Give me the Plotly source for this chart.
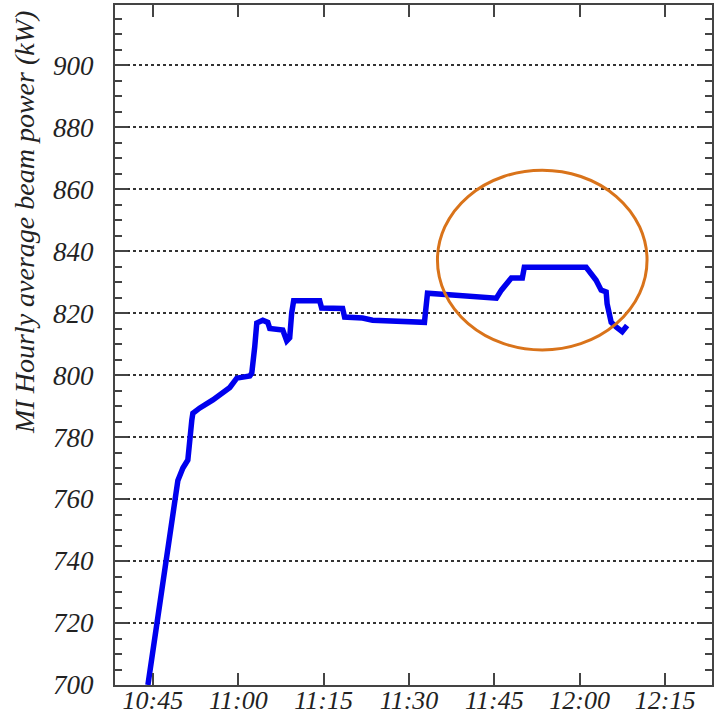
import plotly.graph_objects as go

# Time stamps (HH:MM:SS) and hourly-average beam power (kW)
times = [
    "10:44:07", "10:45:42", "10:47:27", "10:48:51", "10:49:23", "10:50:16",
    "10:51:08", "10:51:50", "10:52:01", "10:53:15", "10:55:32", "10:58:31",
    "10:59:44", "11:02:01", "11:02:22", "11:02:53", "11:03:15", "11:04:18",
    "11:05:11", "11:05:32", "11:07:49", "11:08:31", "11:09:02", "11:09:23",
    "11:09:44", "11:14:18", "11:14:39", "11:18:20", "11:18:41", "11:21:50",
    "11:23:36", "11:32:43", "11:33:04", "11:33:15", "11:37:38", "11:42:53",
    "11:45:21", "11:46:14", "11:47:07", "11:47:59", "11:49:55", "11:50:16",
    "12:01:08", "12:02:01", "12:02:53", "12:03:46", "12:04:39", "12:04:49",
    "12:05:32", "12:06:24", "12:07:28", "12:08:20",
]
power = [
    700, 720, 740, 760, 766, 770,
    772.6, 785.5, 787.7, 789.4, 792, 796,
    799, 799.7, 800.6, 809, 816.8, 817.7,
    817, 815, 814.5, 811, 812, 820,
    824, 824, 821.6, 821.5, 818.7, 818.4,
    817.7, 817, 824, 826.4, 825.8, 825,
    824.8, 827.4, 829.5, 831.3, 831.3, 834.8,
    834.8, 833, 830.6, 827.4, 826.8, 823,
    817, 815.5, 814, 816,
]
tick_vals = ["10:45", "11:00", "11:15", "11:30", "11:45", "12:00", "12:15"]
y_ticks = [700, 720, 740, 760, 780, 800, 820, 840, 860, 880, 900]

DAY = "2020-01-01 "
x = [DAY + t for t in times]

font_fam = "Liberation Serif, Times New Roman, serif"
tickfont = dict(family=font_fam, size=27, color="#222222", style="italic")

fig = go.Figure()
fig.add_trace(go.Scatter(
    x=x, y=power, mode="lines",
    line=dict(color="#0000ee", width=5.5),
    showlegend=False,
))

axis_common = dict(
    showline=True, linecolor="#444444", linewidth=2,
    ticks="inside", tickcolor="#444444", tickwidth=2,
    mirror="ticks", zeroline=False, automargin=False,
)

fig.update_xaxes(
    type="date",
    range=[DAY + "10:38:20", DAY + "12:23:15"],
    tickvals=[DAY + t for t in tick_vals],
    ticktext=["<i>%s</i>" % t for t in tick_vals],
    ticklen=12,
    showgrid=False,
    ticklabelstandoff=-9,
    tickfont=dict(family=font_fam, size=26, color="#222222", style="italic"),
    **axis_common,
)
fig.update_yaxes(
    range=[700, 919.4],
    tickvals=y_ticks,
    ticktext=["<i>%d</i>" % v for v in y_ticks],
    ticklen=13,
    showgrid=True, gridcolor="#333333", griddash="dot", gridwidth=1.5,
    minor=dict(ticks="inside", ticklen=7, dtick=5, tickcolor="#444444",
               tickwidth=2, showgrid=False),
    ticklabelstandoff=14,
    tickfont=tickfont,
    **axis_common,
)

# Highlight ellipse
fig.add_shape(
    type="circle", xref="x", yref="y",
    x0=DAY + "11:35:00", x1=DAY + "12:11:50",
    y0=808.1, y1=866.1,
    line=dict(color="#d9731a", width=3),
    fillcolor="rgba(0,0,0,0)",
)

fig.add_annotation(
    text="<i>MI Hourly average beam power (kW)</i>",
    xref="paper", yref="paper",
    x=-0.1508, y=0.681,
    xanchor="center", yanchor="middle",
    textangle=-90, showarrow=False,
    font=dict(family=font_fam, size=28, color="#222222", style="italic"),
)

fig.update_layout(
    width=714, height=717,
    margin=dict(l=115, r=2, t=5, b=32),
    plot_bgcolor="white", paper_bgcolor="white",
)

fig.write_html("out.html")
